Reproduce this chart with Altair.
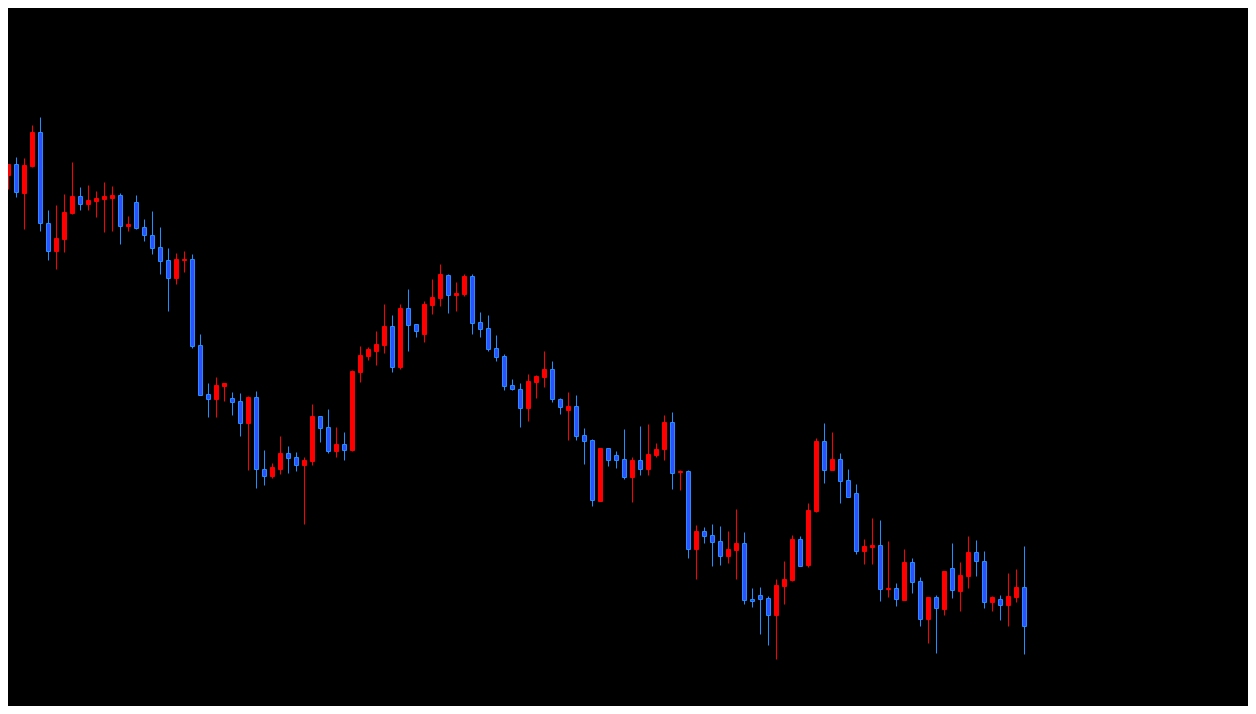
import altair as alt
import pandas as pd

# OHLC price series (arbitrary price units), one candle per bar period
opens = [519,525,536,507,534,568,477,449,461,487,
         504,496,499,501,502,505,474,498,473,465,
         453,440,422,440,441,355,306,301,314,302,
         299,277,303,231,224,231,247,243,235,239,
         284,273,249,256,250,328,344,349,355,374,
         333,392,376,366,395,402,425,405,406,424,
         378,372,352,344,315,311,292,318,323,331,
         301,290,294,265,260,199,252,245,241,223,
         240,231,245,251,278,228,229,151,169,165,
         159,144,150,157,101,105,102,85,114,120,
         161,135,189,259,230,241,220,207,149,153,
         155,111,112,100,138,119,81,103,91,132,
         109,124,148,139,98,101,95,103,113]
highs = [530,536,543,542,575,583,490,495,506,538,
         513,515,509,518,514,507,484,505,481,489,
         473,452,447,449,446,366,317,323,317,308,
         307,304,309,250,237,264,254,248,243,296,
         284,291,273,268,330,354,353,369,396,385,
         396,411,376,399,421,436,426,418,426,426,
         388,385,365,346,321,317,326,325,349,339,
         302,308,305,272,261,252,252,249,271,243,
         274,276,257,285,288,230,230,175,173,176,
         174,169,191,168,112,113,104,121,139,165,
         164,197,262,277,268,247,231,216,161,182,
         180,159,117,151,142,123,103,105,129,157,
         138,164,160,149,104,105,127,131,154]
lows = [496,511,503,471,533,469,440,431,448,486,
        490,490,483,468,469,456,469,471,459,446,
        426,389,416,428,352,305,283,283,299,285,
        264,230,212,215,222,226,227,229,176,235,
        258,247,243,240,249,318,340,335,347,328,
        331,349,363,358,386,394,387,389,404,366,
        363,349,339,310,310,273,279,302,313,298,
        286,260,260,236,194,199,234,232,221,198,
        225,225,243,240,211,210,142,121,157,134,
        135,137,121,96,93,66,55,41,96,119,
        134,133,188,217,230,197,203,146,136,136,
        99,103,94,100,107,74,57,47,85,102,
        89,112,124,92,89,80,74,98,46]
closes = [526,536,508,535,568,477,449,462,488,504,
          496,500,502,504,505,474,476,472,465,452,
          439,422,441,441,354,305,301,315,317,298,
          277,303,231,224,233,247,242,235,240,284,
          272,249,256,250,329,345,351,356,374,333,
          392,375,369,396,403,426,405,407,424,377,
          371,351,343,314,311,292,319,324,331,301,
          293,294,264,259,200,252,240,240,223,240,
          231,246,251,278,227,229,151,169,164,158,
          144,151,157,100,99,101,85,115,121,161,
          134,190,259,230,241,219,203,149,154,155,
          111,112,101,138,118,81,103,92,129,110,
          125,148,139,98,103,95,104,113,74]

df = pd.DataFrame({
    "bar": list(range(len(opens))),
    "open": opens, "high": highs, "low": lows, "close": closes,
})

UP = "#ff0000"
DOWN_BODY = "#2f50ff"
DOWN_EDGE = "#1e90ff"

xs = alt.X("bar:Q", axis=None,
           scale=alt.Scale(domain=[0.9375, 155.9375], nice=False, zero=False, padding=0))
ys = alt.Scale(domain=[-5.5, 692.5], nice=False, zero=False, padding=0)

base = alt.Chart(df).transform_calculate(
    up="datum.close >= datum.open ? 1 : 0"
)

wick = base.mark_rule(strokeWidth=1, clip=True).encode(
    x=xs,
    y=alt.Y("low:Q", axis=None, scale=ys),
    y2="high:Q",
    color=alt.condition("datum.up == 1", alt.value(UP), alt.value(DOWN_EDGE)),
)

body = base.mark_bar(size=4, strokeWidth=1, clip=True).encode(
    x=xs,
    y=alt.Y("open:Q", axis=None, scale=ys),
    y2="close:Q",
    fill=alt.condition("datum.up == 1", alt.value(UP), alt.value(DOWN_BODY)),
    stroke=alt.condition("datum.up == 1", alt.value(UP), alt.value(DOWN_EDGE)),
)

chart = alt.layer(wick, body).properties(
    width=1240, height=698, background="#000000", padding=0,
    autosize=alt.AutoSizeParams(type="none"),
).configure_view(strokeWidth=0, fill="#000000")

chart.save("out.html", embed_options={"renderer": "svg", "actions": False})
